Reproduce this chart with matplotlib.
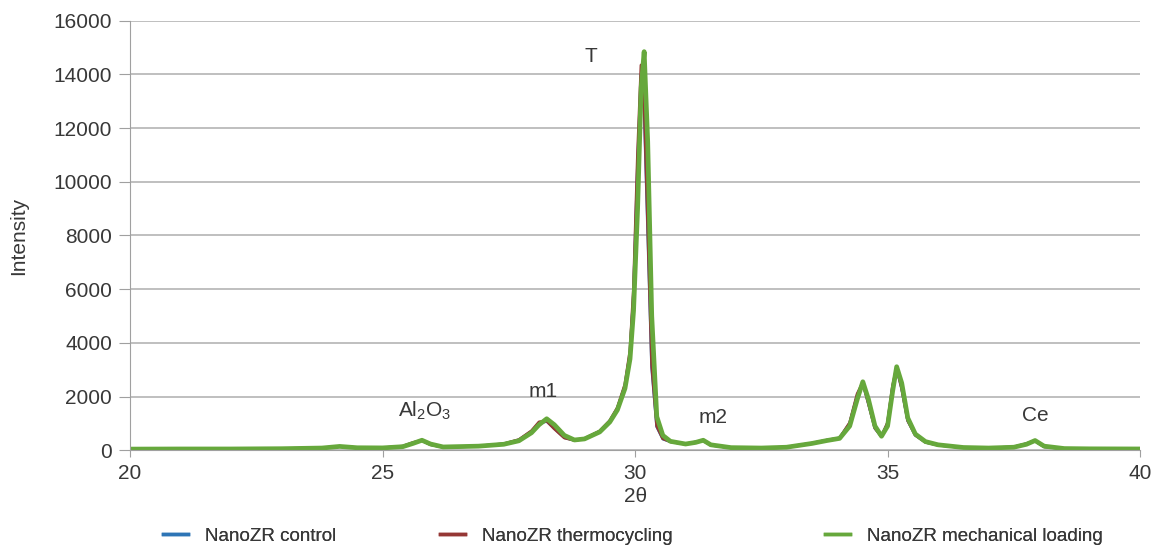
import matplotlib
matplotlib.use("Agg")
import matplotlib.pyplot as plt

plt.rcParams["font.family"] = ["Liberation Sans", "DejaVu Sans"]
plt.rcParams["mathtext.fontset"] = "custom"
plt.rcParams["mathtext.rm"] = "Liberation Sans"

# 2theta positions (degrees)
two_theta = [20.0, 21.0, 22.0, 23.0, 23.8, 24.15, 24.5, 25.0, 25.4, 25.6,
             25.78, 25.95, 26.2, 26.9, 27.4, 27.7, 27.95, 28.1, 28.25, 28.4,
             28.6, 28.8, 29.0, 29.3, 29.5, 29.65, 29.8, 29.9, 29.97, 30.05,
             30.12, 30.18, 30.25, 30.33, 30.43, 30.55, 30.7, 31.0, 31.2, 31.35,
             31.5, 31.9, 32.5, 33.0, 33.5, 33.8, 34.05, 34.25, 34.4, 34.51,
             34.62, 34.75, 34.88, 35.0, 35.1, 35.18, 35.28, 35.4, 35.55, 35.75,
             36.0, 36.5, 37.0, 37.5, 37.75, 37.92, 38.1, 38.5, 39.0, 40.0]

control = [40, 45, 45, 55, 80, 140, 90, 85, 140, 270,
           360, 210, 115, 150, 230, 380, 700, 1000, 1080, 820,
           470, 370, 430, 700, 1080, 1560, 2400, 3600, 5800, 10600,
           14000, 12800, 8300, 3100, 880, 420, 320, 230, 300, 360,
           190, 95, 80, 110, 255, 370, 450, 1000, 2050, 2500,
           1750, 820, 510, 1000, 2350, 3050, 2300, 1100, 560, 300,
           190, 100, 80, 115, 240, 350, 130, 60, 50, 45]

thermocycling = [40, 45, 45, 55, 80, 140, 90, 85, 145, 280,
                 365, 210, 115, 150, 235, 390, 720, 1050, 1090, 800,
                 460, 370, 430, 710, 1100, 1580, 2450, 3700, 6000, 11000,
                 14350, 13000, 8500, 3200, 900, 430, 320, 230, 300, 360,
                 190, 95, 80, 110, 255, 370, 450, 1020, 2100, 2520,
                 1750, 820, 510, 1020, 2400, 3080, 2300, 1100, 560, 300,
                 190, 100, 80, 115, 240, 350, 130, 60, 50, 45]

mechanical = [40, 45, 45, 55, 80, 140, 90, 85, 130, 250,
              370, 230, 120, 150, 220, 350, 650, 950, 1170, 950,
              550, 380, 420, 680, 1050, 1500, 2300, 3400, 5200, 9000,
              13500, 14850, 11500, 5000, 1250, 550, 330, 230, 290, 370,
              200, 95, 80, 110, 250, 360, 440, 900, 1900, 2550,
              1900, 900, 520, 900, 2200, 3110, 2500, 1200, 600, 320,
              200, 100, 80, 110, 220, 360, 150, 60, 50, 45]

peak_labels = ["T", "m1", r"$\mathrm{Al_2O_3}$", "m2", "Ce"]
peak_x = [29.13, 28.18, 25.84, 31.54, 37.92]
peak_y = [14300, 1850, 1050, 880, 920]

TXT = "#383838"
FS = 15

fig = plt.figure(figsize=(11.61, 5.47), dpi=100)
ax = fig.add_axes([0.112, 0.177, 0.870, 0.785])

l1, = ax.plot(two_theta, control, color="#2e75b6", lw=2.2,
              solid_joinstyle="round")
l2, = ax.plot(two_theta, thermocycling, color="#953735", lw=2.2,
              solid_joinstyle="round")
l3, = ax.plot(two_theta, mechanical, color="#66a83c", lw=3.4,
              solid_joinstyle="round")

for lab, px, py in zip(peak_labels, peak_x, peak_y):
    ax.text(px, py, lab, ha="center", va="bottom", fontsize=FS, color=TXT)

ax.set_xlim(20, 40)
ax.set_ylim(0, 16000)
ax.set_xticks([20, 25, 30, 35, 40])
ax.set_yticks(range(0, 16001, 2000))
ax.yaxis.grid(True, color="#b4b4b4", lw=1.2)
ax.set_axisbelow(True)
for s in ["top", "right"]:
    ax.spines[s].set_visible(False)
for s in ["left", "bottom"]:
    ax.spines[s].set_color("#a0a0a0")
ax.tick_params(axis="y", length=8, color="#a0a0a0", labelsize=FS,
               labelcolor=TXT, pad=5)
ax.tick_params(axis="x", length=5, color="#a0a0a0", labelsize=FS,
               labelcolor=TXT, pad=5)
ax.set_ylabel("Intensity", fontsize=FS, color=TXT, labelpad=18)
ax.set_xlabel("2θ", fontsize=FS, color=TXT, labelpad=3)

# legend entries laid out like the original (uneven spacing)
legend_items = [(l1, "NanoZR control", 0.1404),
                (l2, "NanoZR thermocycling", 0.379),
                (l3, "NanoZR mechanical loading", 0.7106)]
for line, name, xpos in legend_items:
    leg = fig.legend([line], [name], loc="center left",
                     bbox_to_anchor=(xpos, 0.02), frameon=False,
                     fontsize=13.5, handlelength=1.35, handletextpad=0.9,
                     borderpad=0, borderaxespad=0, labelcolor=TXT)
    leg.get_lines()[0].set_linewidth(2.5)
    fig.add_artist(leg)

fig.savefig("out.png", dpi=100)
